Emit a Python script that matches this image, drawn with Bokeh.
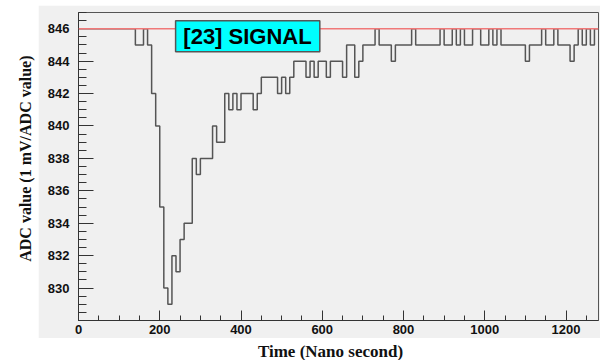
from bokeh.plotting import figure
from bokeh.models import Range1d, FixedTicker, Span, BoxAnnotation, Label, Spacer
from bokeh.layouts import row, column
from bokeh.embed import file_html
from bokeh.resources import INLINE

# ---- data (10 ns bins, run-length: start of run, ADC value) ----
seg_start = [0, 140, 160, 170, 180, 190, 200, 210, 220, 230, 240, 250, 260,
             280, 290, 300, 330, 340, 360, 370, 380, 390, 400, 430, 440, 450,
             490, 500, 510, 520, 530, 560, 570, 580, 590, 610, 620, 650, 660,
             680, 690, 700, 730, 740, 770, 780, 820, 830, 890, 900, 920, 930,
             940, 950, 970, 990, 1010, 1020, 1030, 1040, 1100, 1110, 1140,
             1150, 1170, 1180, 1210, 1220, 1230, 1240, 1250, 1260, 1270]
seg_value = [846, 845, 846, 845, 842, 840, 835, 830, 829, 832, 831, 833, 834,
             838, 837, 838, 840, 839, 842, 841, 842, 841, 842, 841, 842, 843,
             842, 843, 842, 843, 844, 843, 844, 843, 844, 843, 844, 843, 845,
             843, 844, 845, 846, 845, 844, 845, 846, 845, 846, 845, 846, 845,
             846, 845, 846, 845, 846, 845, 846, 845, 844, 845, 846,
             845, 846, 845, 844, 845, 846, 845, 846, 845, 846]
x_end = 1280
signal_level = 846
x_ticks = [0, 200, 400, 600, 800, 1000, 1200]
y_ticks = [830, 832, 834, 836, 838, 840, 842, 844, 846]
label_text = "[23] SIGNAL"
x_title = "Time (Nano second)"
y_title = "ADC value (1 mV/ADC value)"

GRAY = "#f0f0f0"

xs = seg_start + [x_end]
ys = seg_value + [seg_value[-1]]

p = figure(width=562, height=333, x_range=Range1d(0, x_end), y_range=Range1d(828, 847),
           output_backend="svg", toolbar_location=None,
           min_border_left=40, min_border_right=2, min_border_top=7, min_border_bottom=18,
           background_fill_color=GRAY, border_fill_color=GRAY,
           outline_line_color="#555555", outline_line_width=1)
p.grid.visible = False

p.xaxis.ticker = FixedTicker(ticks=x_ticks, minor_ticks=list(range(0, 1281, 50)))
p.yaxis.ticker = FixedTicker(ticks=y_ticks, minor_ticks=[828 + 0.5 * i for i in range(39)])

for ax in (p.xaxis[0], p.yaxis[0]):
    ax.major_tick_out = 0
    ax.minor_tick_out = 0
    ax.axis_line_color = "#333333"
    ax.major_tick_line_color = "#333333"
    ax.minor_tick_line_color = "#333333"
    ax.major_label_text_font = "Liberation Sans"
    ax.major_label_text_font_style = "bold"
    ax.major_label_text_font_size = "13px"
    ax.major_label_text_color = "#111111"
p.xaxis.major_tick_in = 10
p.xaxis.minor_tick_in = 5
p.yaxis.major_tick_in = 15
p.yaxis.minor_tick_in = 8
p.yaxis.major_label_standoff = 9
p.xaxis.major_label_standoff = 4

p.step(x=xs, y=ys, mode="after", line_color="#555555", line_width=1.5)

p.add_layout(Span(location=signal_level, dimension="width", line_color="#f07878", line_width=1.5))
p.add_layout(BoxAnnotation(left=239, right=594, bottom=844.58, top=846.49,
                           fill_color="#00ffff", fill_alpha=1.0,
                           line_color="#555555", line_width=1.5, line_alpha=1.0))
p.add_layout(Label(x=416, y=845.53, text=label_text, text_align="center", text_baseline="middle",
                   text_font="Liberation Sans", text_font_style="bold", text_font_size="22px",
                   text_color="#000000"))

yt = figure(width=38, height=333, x_range=Range1d(0, 38), y_range=Range1d(0, 333),
            min_border=0, x_axis_location=None, y_axis_location=None, toolbar_location=None,
            output_backend="svg", outline_line_color=None,
            border_fill_color="white", background_fill_color="white")
yt.grid.visible = False
yt.add_layout(Label(x=25, y=175, text=y_title, angle=90, angle_units="deg",
                    text_align="center", text_baseline="middle",
                    text_font="Liberation Serif", text_font_style="bold", text_font_size="16px",
                    text_color="#111111"))

xt = figure(width=600, height=22, x_range=Range1d(0, 600), y_range=Range1d(0, 22),
            min_border=0, x_axis_location=None, y_axis_location=None, toolbar_location=None,
            output_backend="svg", outline_line_color=None,
            border_fill_color="white", background_fill_color="white")
xt.grid.visible = False
xt.add_layout(Label(x=330, y=9, text=x_title, text_align="center", text_baseline="middle",
                    text_font="Liberation Serif", text_font_style="bold", text_font_size="17px",
                    text_color="#111111"))

layout = column(Spacer(width=600, height=5), row(yt, p), xt)
open("out.html", "w").write(file_html(layout, INLINE))
